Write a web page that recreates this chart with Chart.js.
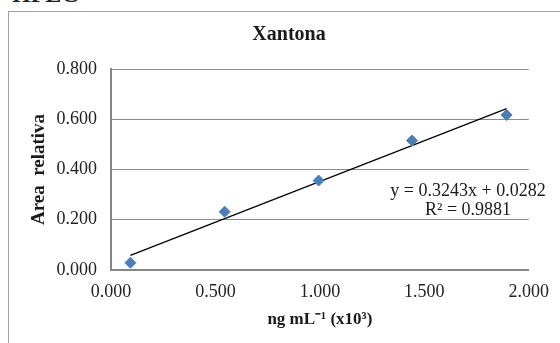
<!DOCTYPE html>
<html lang="pt">
<head>
    <meta charset="UTF-8">
    <title>Xantona</title>
    <style>
        body {
            margin: 0;
            background: #fff;
        }
        .wrap {
            position: relative;
            width: 560px;
            height: 343px;
            overflow: hidden;
        }
        .frame {
            position: absolute;
            left: 8px;
            top: 11px;
            width: 600px;
            height: 400px;
            border: 1.5px solid #a0a0a0;
        }
        .top-label {
            position: absolute;
            left: 12px;
            top: -18px;
            font: bold 24px "Liberation Serif", serif;
            line-height: 24px;
            color: #222;
        }
        canvas {
            position: absolute;
            left: 0;
            top: 0;
        }
    </style>
    <script src="https://cdn.jsdelivr.net/npm/chart.js@4.4.1/dist/chart.umd.min.js"></script>
</head>
<body>
    <div class="wrap">
        <div class="top-label">HPLC</div>
        <div class="frame"></div>
        <canvas id="chart" width="560" height="343"></canvas>
    </div>

    <script>
        // data
        const concentrations = [0.093, 0.544, 0.994, 1.441, 1.894];
        const areas = [0.029, 0.232, 0.356, 0.515, 0.617];
        const slope = 0.3243;
        const intercept = 0.0282;
        const rSquared = 0.9881;

        const chartTitle = 'Xantona';
        const xTitle = 'ng mL\u207B\u00B9 (x10\u00B3)';
        const yTitle = 'Area  relativa';

        const serif = '"Liberation Serif", "Times New Roman", serif';

        // trendline spans the measured range
        const xMin = Math.min(...concentrations);
        const xMax = Math.max(...concentrations);
        const trendPoints = [xMin, xMax].map(x => ({ x: x, y: slope * x + intercept }));

        const points = concentrations.map((x, i) => ({ x: x, y: areas[i] }));

        // title + equation label
        const textPlugin = {
            id: 'texts',
            afterDraw(chart) {
                const ctx = chart.ctx;
                ctx.save();
                ctx.fillStyle = '#1a1a1a';
                ctx.textAlign = 'center';
                ctx.textBaseline = 'middle';
                ctx.font = 'bold 20px ' + serif;
                ctx.fillText(chartTitle, 289, 35);
                ctx.font = '18px ' + serif;
                ctx.fillText('y = ' + slope + 'x + ' + intercept, 468, 191);
                ctx.fillText('R\u00B2 = ' + rSquared, 468, 210);
                ctx.restore();
            }
        };

        new Chart(document.getElementById('chart'), {
            data: {
                datasets: [{
                    type: 'scatter',
                    data: points,
                    pointStyle: 'rectRot',
                    pointRadius: 5.5,
                    backgroundColor: '#4a7ebb',
                    borderColor: '#4a7ebb',
                    borderWidth: 1,
                    order: 1
                }, {
                    type: 'line',
                    data: trendPoints,
                    borderColor: '#000',
                    borderWidth: 1.2,
                    pointRadius: 0,
                    fill: false,
                    order: 2
                }]
            },
            options: {
                responsive: false,
                animation: false,
                devicePixelRatio: 1,
                layout: {
                    padding: { left: 18, right: 27, top: 69, bottom: 0 }
                },
                plugins: {
                    legend: { display: false },
                    tooltip: { enabled: false }
                },
                scales: {
                    x: {
                        type: 'linear',
                        min: 0,
                        max: 2,
                        afterFit(scale) { scale.height = 73; },
                        grid: { display: false, drawTicks: false },
                        border: { display: true, color: '#868686', width: 2 },
                        ticks: {
                            stepSize: 0.5,
                            padding: 11,
                            color: '#222',
                            font: { family: serif, size: 18 },
                            callback: v => v.toFixed(3)
                        },
                        title: {
                            display: true,
                            text: xTitle,
                            color: '#1a1a1a',
                            font: { family: serif, size: 17, weight: 'bold' },
                            padding: { top: 0, bottom: 13 }
                        }
                    },
                    y: {
                        min: 0,
                        max: 0.8,
                        afterFit(scale) { scale.width = 93; },
                        grid: { color: '#8c8c8c', lineWidth: 1, drawTicks: false },
                        border: { display: true, color: '#868686', width: 2 },
                        ticks: {
                            stepSize: 0.2,
                            padding: 14,
                            color: '#222',
                            font: { family: serif, size: 18 },
                            callback: v => v.toFixed(3)
                        },
                        title: {
                            display: true,
                            text: yTitle,
                            color: '#1a1a1a',
                            font: { family: serif, size: 19, weight: 'bold' },
                            padding: { top: 10, bottom: 0 }
                        }
                    }
                }
            },
            plugins: [textPlugin]
        });
    </script>
</body>
</html>
